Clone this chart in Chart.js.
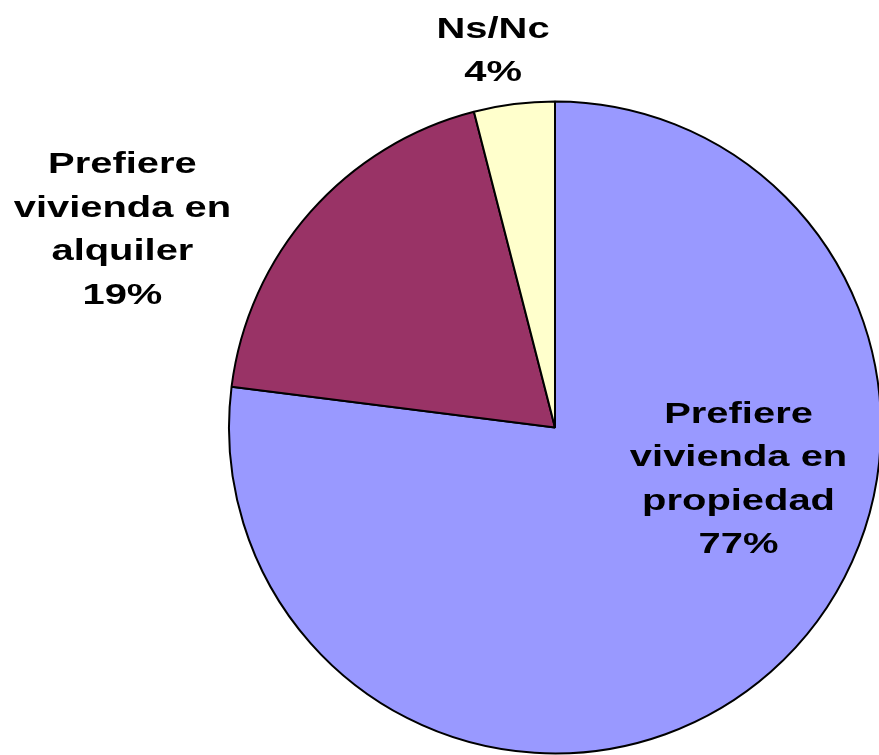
<!DOCTYPE html>
<html>
<head>
<meta charset="utf-8">
<script src="https://cdn.jsdelivr.net/npm/chart.js@4/dist/chart.umd.min.js"></script>
<style>
  html, body { margin: 0; padding: 0; background: #fff; overflow: hidden; }
  #wrap { position: relative; width: 882px; height: 755px; }
</style>
</head>
<body>
<div id="wrap"><canvas id="pie" width="882" height="755"></canvas></div>
<script>
// data
const categories = ['Prefiere vivienda en propiedad', 'Prefiere vivienda en alquiler', 'Ns/Nc'];
const values = [77, 19, 4];
const percentLabels = ['77%', '19%', '4%'];
const labelLines = [
    ['Prefiere', 'vivienda en', 'propiedad', '77%'],
    ['Prefiere', 'vivienda en', 'alquiler', '19%'],
    ['Ns/Nc', '4%']
];
const sliceColors = ['#9999FF', '#993366', '#FFFFCC'];

// label anchor relative to pie center, in units of radius (baseline of first line)
const labelAnchors = [
    { dx: 0.563, dy: -0.015 },
    { dx: -1.327, dy: -0.78 },
    { dx: -0.19, dy: -1.196 }
];

const sliceLabels = {
    id: 'sliceLabels',
    afterDatasetsDraw(chart) {
        const ctx = chart.ctx;
        const meta = chart.getDatasetMeta(0);
        ctx.save();
        ctx.fillStyle = '#000';
        ctx.font = 'bold 30px "Liberation Sans", Arial, sans-serif';
        ctx.textAlign = 'center';
        ctx.textBaseline = 'alphabetic';
        meta.data.forEach((arc, i) => {
            const r = arc.outerRadius;
            const ax = arc.x + labelAnchors[i].dx * r;
            const ay = arc.y + labelAnchors[i].dy * r;
            labelLines[i].forEach((line, j) => {
                ctx.save();
                ctx.translate(ax, ay + j * 43.6);
                ctx.scale(1.33, 1);
                ctx.fillText(line, 0, 0);
                ctx.restore();
            });
        });
        ctx.restore();
    }
};

new Chart(document.getElementById('pie'), {
    type: 'pie',
    data: {
        labels: categories,
        datasets: [{
            data: values,
            backgroundColor: sliceColors,
            borderColor: '#000',
            borderWidth: 2,
            borderAlign: 'center'
        }]
    },
    options: {
        responsive: false,
        animation: false,
        layout: { padding: { left: 228, top: 100, right: 0, bottom: 0 } },
        plugins: {
            legend: { display: false },
            tooltip: { enabled: false }
        }
    },
    plugins: [sliceLabels]
});
</script>
</body>
</html>
